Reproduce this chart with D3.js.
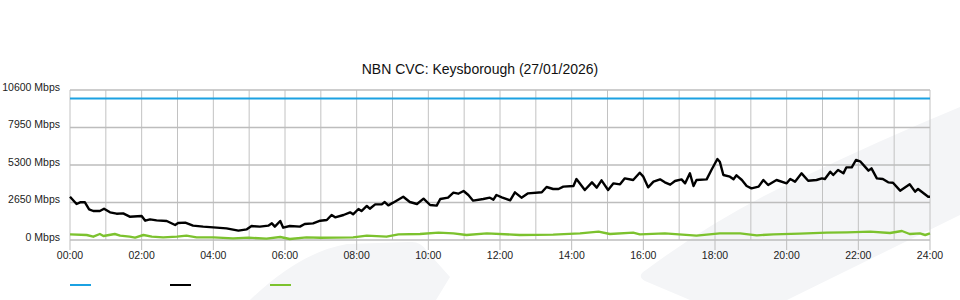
<!DOCTYPE html>
<html>
<head>
<meta charset="utf-8">
<script src="https://cdn.jsdelivr.net/npm/d3@7"></script>
<style>
    body { margin: 0; background: #fff; }
    svg { display: block; font-family: "Liberation Sans", Arial, sans-serif; }
</style>
</head>
<body>
<div id="chart"></div>
<script>
    const title = 'NBN CVC: Keysborough (27/01/2026)';
    const yTicks = [0, 2650, 5300, 7950, 10600];
    const xTickHours = [0, 2, 4, 6, 8, 10, 12, 14, 16, 18, 20, 22, 24];

    // [minute of day, Mbps]
    const capacity = [[0, 10000], [1440, 10000]];
    const download = [
        [0, 3060], [11, 2544], [17, 2664], [25, 2664], [32, 2170], [39, 2049], [50, 2049], [57, 2212],
        [67, 1957], [78, 1860], [89, 1880], [100, 1648], [120, 1695], [126, 1365], [134, 1460], [145, 1390],
        [162, 1343], [176, 1060], [181, 1201], [193, 1225], [206, 1013], [223, 943], [240, 895], [262, 825],
        [282, 660], [296, 754], [304, 990], [318, 943], [332, 1013], [338, 1178], [343, 943], [352, 1343],
        [357, 872], [368, 990], [385, 943], [393, 1130], [407, 1178], [419, 1365], [430, 1413], [438, 1767],
        [444, 1600], [458, 1767], [469, 1955], [474, 1813], [483, 2190], [488, 2049], [497, 2403], [502, 2212],
        [511, 2520], [522, 2520], [527, 2685], [533, 2450], [541, 2638], [558, 3060], [569, 2685], [581, 2544],
        [592, 2920], [603, 2473], [614, 2427], [620, 2897], [633, 2990], [642, 3343], [650, 3272], [659, 3463],
        [667, 3180], [675, 2780], [692, 2897], [703, 2990], [709, 2850], [714, 3180], [723, 3015], [737, 2803],
        [745, 3370], [756, 2990], [767, 3296], [790, 3370], [798, 3745], [809, 3604], [818, 3604], [826, 3769],
        [843, 3816], [848, 4310], [862, 3533], [874, 4075], [882, 3698], [890, 4216], [901, 3533], [910, 4004],
        [921, 3934], [929, 4357], [943, 4240], [954, 4757], [960, 4475], [968, 3722], [977, 4122], [988, 4287],
        [996, 4075], [1005, 3910], [1013, 4170], [1024, 4287], [1030, 4004], [1038, 4710], [1044, 3816], [1049, 4240],
        [1066, 4287], [1074, 4947], [1084, 5724], [1088, 5535], [1094, 4593], [1105, 4475], [1111, 4287], [1116, 4570],
        [1125, 4240], [1133, 3816], [1141, 3651], [1153, 3769], [1161, 4240], [1169, 3887], [1183, 4240], [1200, 4004],
        [1206, 4310], [1214, 4122], [1225, 4710], [1236, 4190], [1250, 4240], [1259, 4357], [1264, 4310], [1273, 4828],
        [1278, 4593], [1286, 4947], [1295, 4710], [1300, 5135], [1309, 5135], [1316, 5653], [1323, 5560], [1331, 5182],
        [1337, 4900], [1342, 5065], [1351, 4357], [1361, 4310], [1370, 4075], [1378, 4050], [1390, 3486], [1406, 3934],
        [1415, 3416], [1420, 3604], [1437, 3060], [1440, 3060]
    ];
    const upload = [
        [0, 400], [28, 353], [39, 235], [50, 424], [56, 283], [75, 424], [84, 306], [100, 235],
        [109, 165], [123, 353], [137, 235], [156, 188], [179, 235], [195, 306], [212, 188], [240, 188],
        [273, 118], [299, 165], [329, 94], [352, 212], [368, 71], [396, 188], [419, 160], [474, 188],
        [497, 306], [530, 235], [550, 400], [586, 424], [617, 518], [642, 471], [664, 353], [698, 471],
        [753, 353], [809, 377], [854, 471], [885, 589], [904, 424], [943, 518], [954, 400], [996, 471],
        [1049, 306], [1088, 471], [1122, 471], [1150, 330], [1178, 400], [1222, 447], [1267, 518], [1301, 542],
        [1340, 589], [1373, 495], [1393, 636], [1406, 424], [1423, 471], [1432, 353], [1440, 471]
    ];

    const seriesColors = ['#1ba1e2', '#000000', '#7cc22e'];

    const width = 960, height = 300;
    const margin = { top: 90, right: 30, bottom: 60, left: 70 };

    const svg = d3.select('#chart').append('svg')
        .attr('width', width).attr('height', height);

    // background watermark
    const wm = svg.append('g').attr('fill', '#f4f5f7');
    wm.append('path')
        .attr('d', 'M690,300 L645,281 Q636,276 646,270 Q720,215 797,180 Q880,140 960,107 L960,215 L787,300 Z');
    wm.append('path')
        .attr('d', 'M250,300 Q300,252 347,244 L410,242 Q420,241 426,250 L450,277 L436,300 Z');

    const x = d3.scaleLinear().domain([0, 1440]).range([margin.left, width - margin.right]);
    const y = d3.scaleLinear().domain([0, 10600]).range([height - margin.bottom, margin.top]);

    // grid
    const grid = svg.append('g');
    grid.selectAll('.vgrid')
        .data(d3.range(0, 25))
        .join('line')
        .attr('class', 'vgrid')
        .attr('x1', d => x(d * 60)).attr('x2', d => x(d * 60))
        .attr('y1', y(10600)).attr('y2', y(0))
        .style('stroke', '#c2c2c2').style('stroke-width', 1);

    grid.selectAll('.hgrid')
        .data(yTicks)
        .join('line')
        .attr('class', 'hgrid')
        .attr('x1', x(0)).attr('x2', x(1440))
        .attr('y1', d => y(d)).attr('y2', d => y(d))
        .style('stroke', '#bdbdbd').style('stroke-width', 1.5);

    // y labels
    svg.selectAll('.ylabel')
        .data(yTicks)
        .join('text')
        .attr('class', 'ylabel')
        .attr('x', margin.left - 10)
        .attr('y', d => y(d) - 2)
        .attr('text-anchor', 'end')
        .attr('dominant-baseline', 'middle')
        .attr('font-size', 10.5)
        .attr('fill', '#222')
        .text(d => `${d} Mbps`);

    // x axis ticks + labels
    const xAxis = svg.append('g');
    xAxis.selectAll('.xtick')
        .data(xTickHours)
        .join('line')
        .attr('class', 'xtick')
        .attr('x1', d => x(d * 60)).attr('x2', d => x(d * 60))
        .attr('y1', y(0)).attr('y2', y(0) + 10)
        .style('stroke', '#bdbdbd').style('stroke-width', 1);

    xAxis.selectAll('.xlabel')
        .data(xTickHours)
        .join('text')
        .attr('class', 'xlabel')
        .attr('x', d => x(d * 60))
        .attr('y', y(0) + 16)
        .attr('text-anchor', 'middle')
        .attr('dominant-baseline', 'middle')
        .attr('font-size', 10.5)
        .attr('fill', '#222')
        .text(d => `${String(d).padStart(2, '0')}:00`);

    // series
    const line = d3.line().x(d => x(d[0])).y(d => y(d[1]));
    svg.selectAll('.series')
        .data([capacity, download, upload])
        .join('path')
        .attr('class', 'series')
        .attr('d', line)
        .style('fill', 'none')
        .style('stroke', (d, i) => seriesColors[i])
        .style('stroke-width', (d, i) => i === 0 ? 2 : 2.4)
        .style('stroke-linejoin', 'round');

    // title
    svg.append('text')
        .attr('x', width / 2)
        .attr('y', 70)
        .attr('text-anchor', 'middle')
        .attr('dominant-baseline', 'middle')
        .attr('font-size', 14)
        .attr('fill', '#111')
        .text(title);

    // legend (swatches only)
    svg.selectAll('.legend')
        .data(seriesColors)
        .join('line')
        .attr('class', 'legend')
        .attr('x1', (d, i) => 70 + i * 100).attr('x2', (d, i) => 91 + i * 100)
        .attr('y1', 285).attr('y2', 285)
        .style('stroke', d => d)
        .style('stroke-width', 2);
</script>
</body>
</html>
